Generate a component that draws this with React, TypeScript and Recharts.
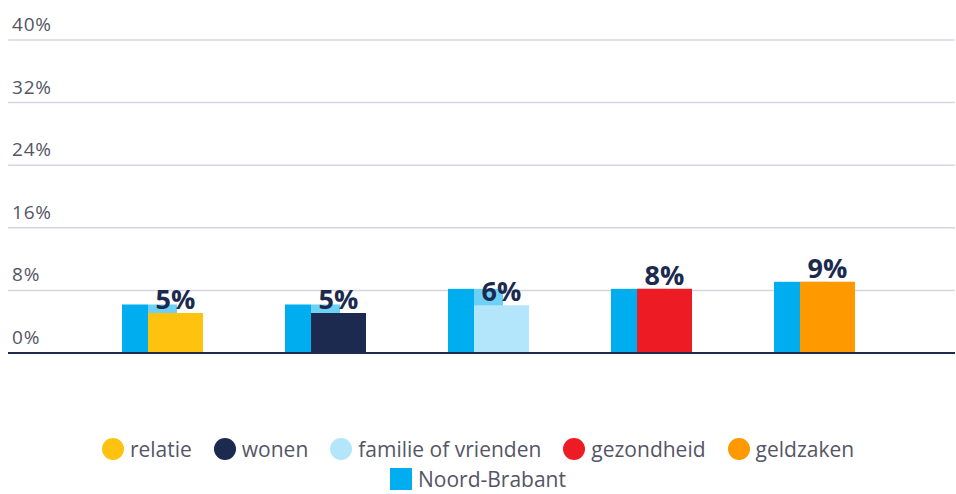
import { BarChart, Bar, XAxis, YAxis, CartesianGrid, ReferenceLine, LabelList, Cell } from "recharts";

const categories = ["relatie", "wonen", "familie of vrienden", "gezondheid", "geldzaken"];
const topicValues = [5.1, 5.1, 6.1, 8.2, 9.1];
const brabantValues = [6.2, 6.2, 8.2, 8.2, 9.1];
const topicColors = ["#FFC20E", "#1B2A4E", "#B3E6FA", "#ED1C24", "#FF9900"];
const yTicks = [0, 8, 16, 24, 32, 40];

const BRABANT = "#00AEEF";
const BRABANT_LIGHT = "#6FD0F5";
const TEXT = "#555566";
const NAVY = "#1B2A4E";

const data = categories.map((name, i) => ({
  name,
  brabant: brabantValues[i],
  topic: topicValues[i],
}));

const OVERLAP = 29;

// Noord-Brabant bar: the part hidden behind the topic bar is paler
function BrabantShape(props: any) {
  const { x, y, width, height } = props;
  const visible = width - OVERLAP;
  return (
    <g>
      <rect x={x} y={y} width={visible} height={height} fill={BRABANT} />
      <rect x={x + visible} y={y} width={OVERLAP} height={height} fill={BRABANT_LIGHT} />
    </g>
  );
}

function YTick(props: any) {
  const { y, payload } = props;
  return (
    <text x={12} y={y - 9} fill={TEXT} fontSize={19} letterSpacing={0.8} fontFamily="Open Sans" textAnchor="start">
      {`${payload.value}%`}
    </text>
  );
}

function ChartLegend() {
  const item = (key: string, color: string, label: string, round: boolean) => (
    <span key={key} style={{ display: "inline-flex", alignItems: "center", margin: "0 11px" }}>
      <span
        style={{
          width: 22,
          height: 22,
          borderRadius: round ? 11 : 0,
          background: color,
          display: "inline-block",
          marginRight: 6,
        }}
      />
      <span>{label}</span>
    </span>
  );
  return (
    <div
      style={{
        position: "absolute",
        top: 434,
        left: 0,
        width: 956,
        fontFamily: "Open Sans",
        fontSize: 21,
        color: TEXT,
        lineHeight: "30px",
      }}
    >
      <div style={{ display: "flex", justifyContent: "center" }}>
        {categories.map((c, i) => item(c, topicColors[i], c, true))}
      </div>
      <div style={{ display: "flex", justifyContent: "center" }}>
        {item("nb", BRABANT, "Noord-Brabant", false)}
      </div>
    </div>
  );
}

export default function App() {
  return (
    <div style={{ position: "absolute", left: 0, top: 0, width: 956, height: 494, background: "#fff", overflow: "hidden" }}>
      <BarChart
        width={956}
        height={494}
        data={data}
        margin={{ top: 40, right: 1, left: 7, bottom: 141 }}
        barSize={55}
        barGap={-OVERLAP}
      >
        <CartesianGrid vertical={false} stroke="#D6D6E2" strokeWidth={1.5} />
        <XAxis dataKey="name" hide padding={{ left: 73, right: 59 }} />
        <YAxis
          domain={[0, 40]}
          ticks={yTicks}
          width={1}
          axisLine={false}
          tickLine={false}
          tick={<YTick />}
          interval={0}
        />
        <Bar dataKey="brabant" fill={BRABANT} shape={<BrabantShape />} isAnimationActive={false} />
        <Bar dataKey="topic" isAnimationActive={false}>
          {data.map((d, i) => (
            <Cell key={d.name} fill={topicColors[i]} />
          ))}
          <LabelList
            dataKey="topic"
            position="top"
            offset={4}
            formatter={(v: any) => `${Math.round(Number(v))}%`}
            fill={NAVY}
            fontSize={27}
            fontWeight={700}
            fontFamily="Open Sans"
          />
        </Bar>
        <ReferenceLine y={0} stroke={NAVY} strokeWidth={2} />
      </BarChart>
      <ChartLegend />
    </div>
  );
}
